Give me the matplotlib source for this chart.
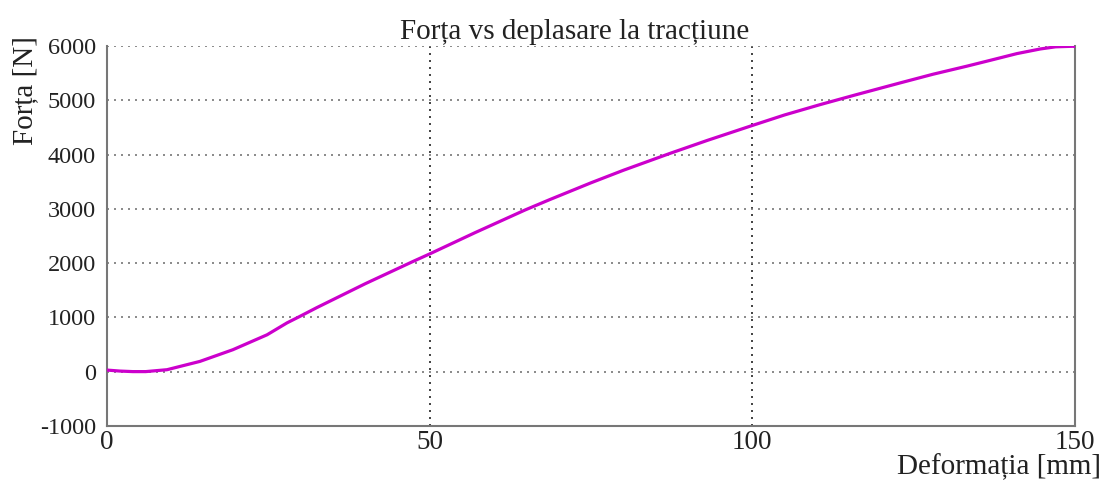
import matplotlib
matplotlib.use("Agg")
import matplotlib.pyplot as plt

plt.rcParams['font.family'] = ['Liberation Serif', 'DejaVu Serif']
plt.rcParams['axes.unicode_minus'] = False

# deformatie [mm] si forta [N]
deformatie = [0, 2, 4, 6, 9.3, 14.4, 19.5, 24.8, 27.9, 29.9, 32.5, 40, 47.4, 50,
              57, 64.8, 68.6, 75, 80, 87.2, 93, 100.1, 105, 110.5, 116,
              122.9, 128, 133.3, 137, 141, 144.6, 147, 149.7, 150]
forta = [30, 12, 2, 2, 37, 190, 405, 680, 900, 1020, 1180, 1620, 2030, 2170,
         2560, 2980, 3170, 3480, 3710, 4020, 4260, 4540, 4730, 4920, 5100,
         5320, 5480, 5630, 5740, 5860, 5945, 5985, 5995, 5990]

xticks = [0, 50, 100, 150]
yticks = [-1000, 0, 1000, 2000, 3000, 4000, 5000, 6000]

fig = plt.figure(figsize=(11.07, 4.8), dpi=100)
ax = fig.add_axes([107/1107, 1-426/480, 968/1107, 380/480])

ax.plot(deformatie, forta, color='#cc00cc', lw=2.3, zorder=3,
        solid_joinstyle='round', solid_capstyle='round')

ax.set_xlim(0, 150)
ax.set_ylim(-1000, 6000)
ax.set_xticks(xticks)
ax.set_yticks(yticks)
ax.tick_params(length=0, colors='#222222')
ax.tick_params(axis='x', pad=3, labelsize=19.5)
ax.tick_params(axis='y', pad=8, labelsize=17.5)

ax.yaxis.grid(True, linestyle=(0, (1.2, 3)), color='#777777', lw=1.2)
ax.xaxis.grid(True, linestyle=(0, (1.2, 3)), color='#222222', lw=1.2)

ax.spines['top'].set_visible(False)
for s in ['left', 'bottom', 'right']:
    ax.spines[s].set_color('#777777')
    ax.spines[s].set_linewidth(1.5)

ax.set_title('Forța vs deplasare la tracțiune', fontsize=21, color='#222222',
             pad=5, x=(575-107)/968)
fig.text(1101/1107, 1-467/480, 'Deformația [mm]', ha='right', va='center',
         fontsize=21, color='#222222')
fig.text(25/1107, 1-36/480, 'Forța [N]', rotation=90, ha='center', va='top',
         fontsize=21, color='#222222')

fig.savefig('out.png', dpi=100)
